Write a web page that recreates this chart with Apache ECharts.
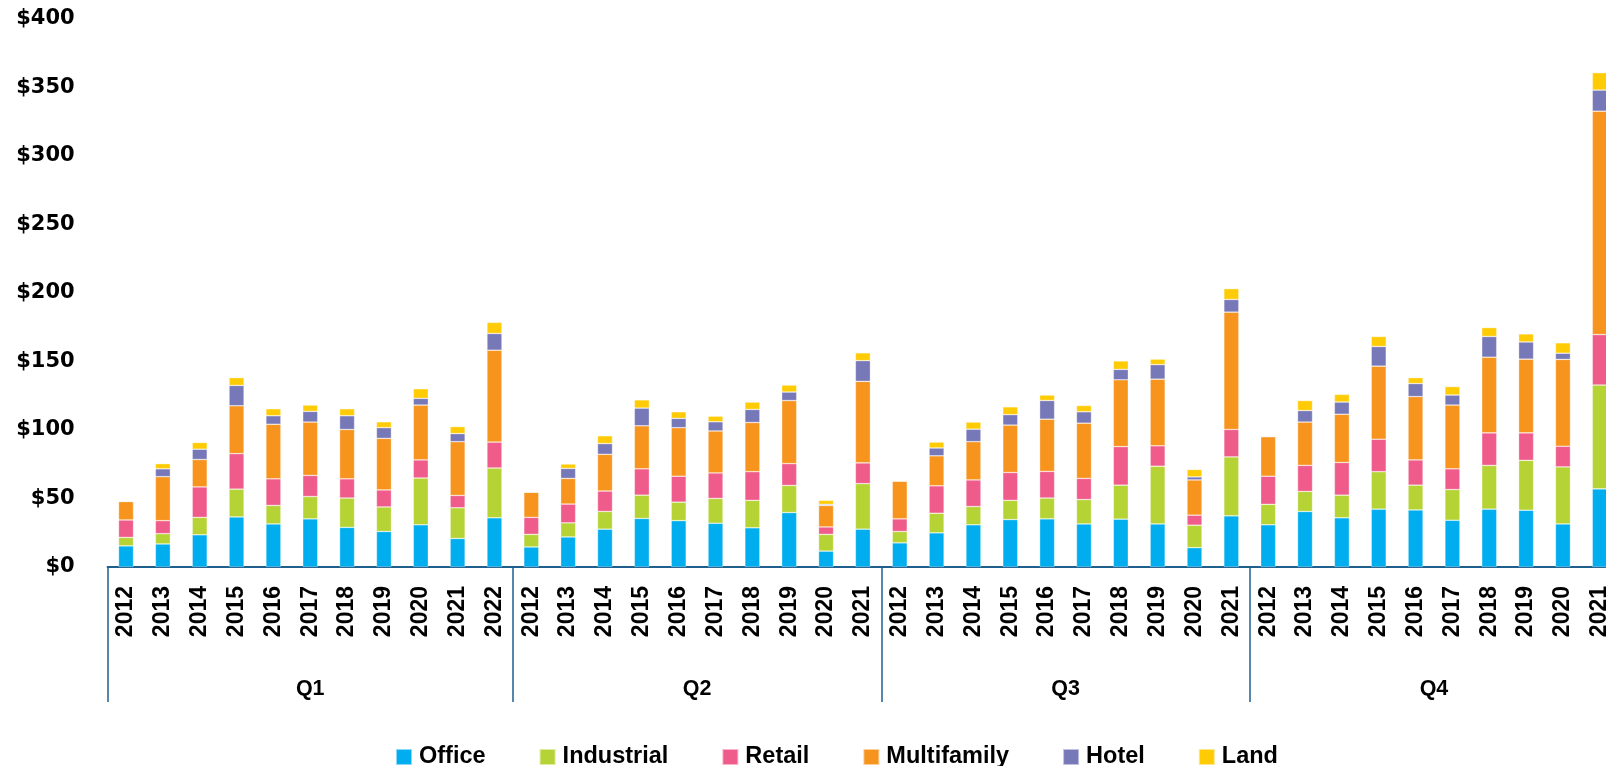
<!DOCTYPE html>
<html>
<head>
<meta charset="utf-8">
<script src="https://cdn.jsdelivr.net/npm/echarts@6/dist/echarts.min.js"></script>
<style>
  html, body { margin: 0; padding: 0; background: #fff; overflow: hidden; }
  #chart { width: 1606px; height: 766px; }
</style>
</head>
<body>
<div id="chart"></div>
<script>
// ---- Data ----
const quarterLabels = ['Q1', 'Q2', 'Q3', 'Q4'];
const yearsQ1 = ['2012','2013','2014','2015','2016','2017','2018','2019','2020','2021','2022'];
const yearsQ2 = ['2012','2013','2014','2015','2016','2017','2018','2019','2020','2021'];
const yearsQ3 = ['2012','2013','2014','2015','2016','2017','2018','2019','2020','2021'];
const yearsQ4 = ['2012','2013','2014','2015','2016','2017','2018','2019','2020','2021'];
const seriesNames = ['Office', 'Industrial', 'Retail', 'Multifamily', 'Hotel', 'Land'];
const yTicks = [0, 50, 100, 150, 200, 250, 300, 350, 400];

const office = [
  15.4, 16.8, 23.5, 36.5, 31.4, 35.1, 28.9, 25.9, 30.8, 20.8, 35.9,
  14.6, 21.9, 27.6, 35.4, 33.8, 31.9, 28.6, 39.7, 11.6, 27.6,
  17.6, 24.9, 30.8, 34.6, 35.1, 31.4, 34.9, 31.4, 14.1, 37.3,
  30.8, 40.5, 35.9, 42.2, 41.6, 34.1, 42.2, 41.4, 31.4, 57.0
];
const industrial = [
  6.2, 7.5, 12.7, 20.3, 13.5, 16.3, 21.4, 17.9, 34.1, 22.4, 36.3,
  9.2, 10.3, 12.9, 17.0, 13.5, 18.1, 20.0, 19.8, 12.2, 33.2,
  8.3, 14.3, 13.3, 14.0, 15.2, 17.8, 24.8, 42.1, 16.4, 43.0,
  14.9, 14.6, 16.5, 27.3, 18.1, 22.4, 31.9, 36.4, 41.6, 75.7
];
const retail = [
  12.7, 9.5, 22.2, 25.9, 19.4, 15.4, 14.0, 12.4, 13.2, 9.0, 18.9,
  12.4, 13.7, 14.9, 19.2, 18.9, 18.6, 20.9, 15.9, 5.4, 15.1,
  9.2, 20.0, 19.4, 20.3, 19.4, 15.4, 28.1, 14.9, 7.3, 20.0,
  20.5, 19.0, 23.8, 23.7, 18.4, 15.1, 23.7, 20.0, 15.1, 36.8
];
const multifamily = [
  13.5, 32.1, 20.0, 34.9, 39.8, 38.9, 36.0, 37.6, 40.0, 39.2, 67.0,
  18.4, 18.7, 26.8, 31.4, 35.4, 30.6, 35.9, 46.0, 15.7, 59.5,
  27.6, 21.9, 27.9, 34.6, 38.1, 40.3, 48.7, 48.6, 25.7, 85.6,
  28.9, 31.6, 35.2, 53.3, 46.2, 46.5, 55.2, 53.8, 63.3, 162.9
];
const hotel = [
  0, 5.7, 7.5, 14.8, 6.2, 7.8, 10.0, 7.8, 4.9, 5.9, 12.2,
  0, 7.3, 7.8, 12.9, 6.8, 6.7, 9.5, 6.2, 0.8, 15.1,
  0, 5.7, 9.1, 7.6, 13.6, 8.3, 7.6, 10.6, 2.2, 9.2,
  0, 8.4, 8.9, 14.3, 9.5, 7.3, 15.1, 12.5, 4.5, 15.4
];
const land = [
  0, 3.8, 4.9, 5.7, 5.1, 4.6, 5.1, 4.3, 7.0, 5.1, 8.1,
  0, 3.2, 5.7, 6.0, 4.8, 4.1, 5.4, 5.1, 2.9, 5.7,
  0, 4.3, 5.2, 5.7, 4.0, 4.6, 6.2, 4.0, 5.4, 7.9,
  0, 7.3, 5.6, 7.3, 4.3, 6.2, 6.5, 5.9, 7.6, 12.7
];

// ---- Build axis helpers ----
const yearGroups = [yearsQ1, yearsQ2, yearsQ3, yearsQ4];
const categories = [];
const boundaries = [0];
const groupCenters = {};
yearGroups.forEach((ys, gi) => {
  const start = categories.length;
  ys.forEach(y => categories.push(quarterLabels[gi] + '|' + y));
  const end = categories.length;
  boundaries.push(end);
  groupCenters[(start + end) / 2] = quarterLabels[gi];
});
const total = categories.length;
const centerValues = Object.keys(groupCenters).map(Number);

const colors = ['#00AEEF', '#B5D334', '#EF5B8A', '#F7941E', '#7778B8', '#FFCB05'];
const values = [office, industrial, retail, multifamily, hotel, land];

const axisBlue = '#1f5f8d';
const chart = echarts.init(document.getElementById('chart'), null, { renderer: 'canvas' });

chart.setOption({
  animation: false,
  color: colors,
  grid: {
    left: 107.6, top: 18.5, width: 1510.6, height: 548.5,
    containLabel: false, outerBoundsMode: 'none'
  },
  legend: {
    data: seriesNames,
    left: 395, top: 745, padding: 0,
    icon: 'rect', itemWidth: 16, itemHeight: 16, itemGap: 53,
    textStyle: {
      fontFamily: 'Liberation Sans', fontWeight: 'bold', fontSize: 23.5,
      color: '#000', padding: [0, 0, 0, 2]
    }
  },
  xAxis: [
    {
      type: 'category',
      data: categories,
      position: 'bottom',
      boundaryGap: true,
      axisLine: { show: true, lineStyle: { color: axisBlue, width: 2 } },
      axisTick: { show: false },
      splitLine: { show: false },
      axisLabel: {
        interval: 0, rotate: 90, margin: 19,
        fontFamily: 'Liberation Sans', fontWeight: 'bold', fontSize: 23, color: '#000',
        formatter: v => v.split('|')[1]
      }
    },
    {
      type: 'value',
      min: 0, max: total,
      position: 'bottom',
      axisLine: { show: false, onZero: false },
      splitLine: { show: false },
      axisTick: {
        show: true, inside: false, length: 135,
        customValues: boundaries,
        lineStyle: { color: axisBlue, width: 1.5 }
      },
      axisLabel: {
        show: true, margin: 111,
        customValues: centerValues,
        fontFamily: 'Liberation Sans', fontWeight: 'bold', fontSize: 21.5, color: '#000',
        formatter: v => groupCenters[v] || ''
      }
    }
  ],
  yAxis: {
    type: 'value',
    min: yTicks[0], max: yTicks[yTicks.length - 1], interval: yTicks[1] - yTicks[0],
    axisLine: { show: false },
    axisTick: { show: false },
    splitLine: { show: false },
    axisLabel: {
      margin: 33,
      fontFamily: 'DejaVu Sans', fontWeight: 'bold', fontSize: 21, color: '#000',
      formatter: v => '$' + v
    }
  },
  series: seriesNames.map((name, i) => ({
    name,
    type: 'bar',
    stack: 'total',
    xAxisIndex: 0,
    barWidth: 15,
    data: values[i],
    itemStyle: { color: colors[i], borderColor: 'rgba(255,255,255,0.55)', borderWidth: 0.6 }
  }))
});
</script>
</body>
</html>
